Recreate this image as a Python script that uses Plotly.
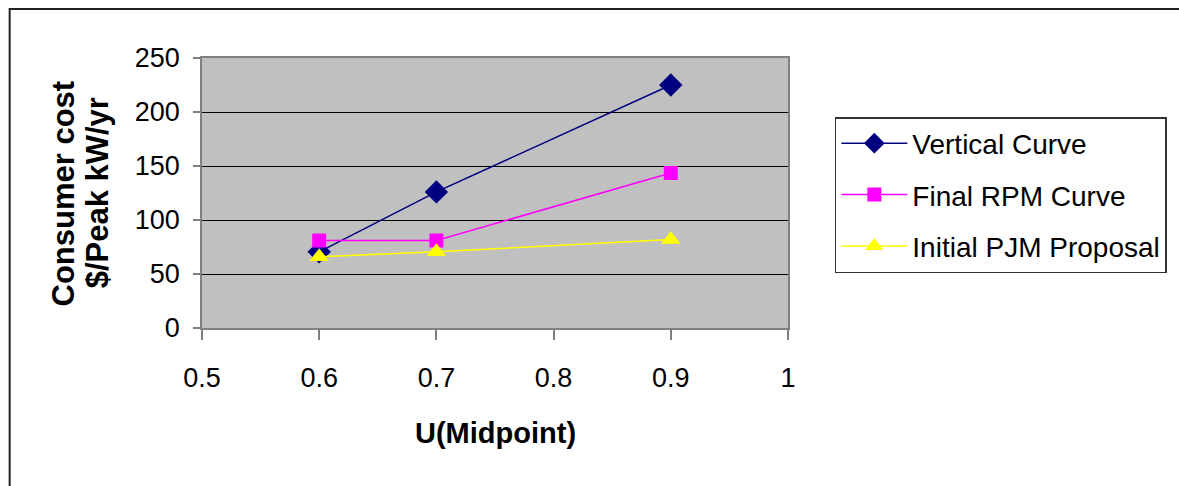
import plotly.graph_objects as go

x_vals = [0.6, 0.7, 0.9]
vertical_curve = [70.5, 126, 225]
final_rpm_curve = [81, 81, 143.5]
initial_pjm = [66, 70.5, 82]
series_names = ["Vertical Curve", "Final RPM Curve", "Initial PJM Proposal"]
x_ticks = [0.5, 0.6, 0.7, 0.8, 0.9, 1]
x_tick_labels = ["0.5", "0.6", "0.7", "0.8", "0.9", "1"]
y_ticks = [0, 50, 100, 150, 200, 250]
y_title_lines = ["Consumer cost", "$/Peak kW/yr"]

W, H = 1179, 486
L, R, T, B = 202, 790, 58, 328
pw, ph = R - L, B - T

def px(x):
    return (x - L) / pw

def py(y):
    return (B - y) / ph

FONT = "Liberation Sans, Arial, sans-serif"

fig = go.Figure()
styles = [
    dict(color="#000080", symbol="diamond", size=18),
    dict(color="#FF00FF", symbol="square", size=14),
    dict(color="#FFFF00", symbol="triangle-up", size=17),
]
for name, ys, st in zip(series_names, [vertical_curve, final_rpm_curve, initial_pjm], styles):
    fig.add_trace(go.Scatter(
        x=x_vals, y=ys, name=name, mode="lines+markers", legendgroup=name,
        line=dict(color=st["color"], width=1.5),
        marker=dict(symbol=st["symbol"], size=st["size"], color=st["color"],
                    line=dict(width=0)),
    ))

axis_common = dict(
    showline=True, linecolor="#808080", linewidth=1.5, mirror=True,
    ticks="outside", tickcolor="#808080", tickwidth=1.5,
    tickfont=dict(family=FONT, size=27, color="black"),
    zeroline=False,
)

fig.update_xaxes(range=[0.5, 1.0], tickvals=x_ticks, ticktext=x_tick_labels,
                 showgrid=False, ticklen=10, ticklabelstandoff=15, **axis_common)
fig.update_yaxes(range=[0, 250], tickvals=y_ticks, showgrid=True,
                 gridcolor="black", gridwidth=1, ticklen=7, ticklabelstandoff=8,
                 **axis_common)

fig.add_annotation(text="<b>U(Midpoint)</b>", xref="paper", yref="paper",
                   x=px(496), y=py(433), xanchor="center", yanchor="middle",
                   showarrow=False, font=dict(family=FONT, size=29, color="black"))
for txt, cx, cy in zip(y_title_lines, [63, 97], [193, 193]):
    fig.add_annotation(text="<b>" + txt + "</b>", xref="paper", yref="paper",
                       x=px(cx), y=py(cy), xanchor="center", yanchor="middle",
                       textangle=-90, showarrow=False,
                       font=dict(family=FONT, size=31, color="black"))

fig.add_shape(type="rect", xref="paper", yref="paper",
              x0=px(9), x1=px(1200), y0=py(9), y1=py(520),
              line=dict(color="#222222", width=2), fillcolor="rgba(0,0,0,0)", layer="below")

fig.update_layout(
    width=W, height=H,
    margin=dict(l=L, r=W - R, t=T, b=H - B),
    paper_bgcolor="white", plot_bgcolor="#C0C0C0",
    showlegend=True,
    legend=dict(x=px(837), y=py(117), xanchor="left", yanchor="top",
                bordercolor="#333333", borderwidth=1.5, bgcolor="white",
                font=dict(family=FONT, size=28, color="black"),
                tracegroupgap=12, itemwidth=66),
)

fig.write_html("out.html", config={"displayModeBar": False},
               post_script="document.body.style.margin='0';document.body.style.overflow='hidden';")
